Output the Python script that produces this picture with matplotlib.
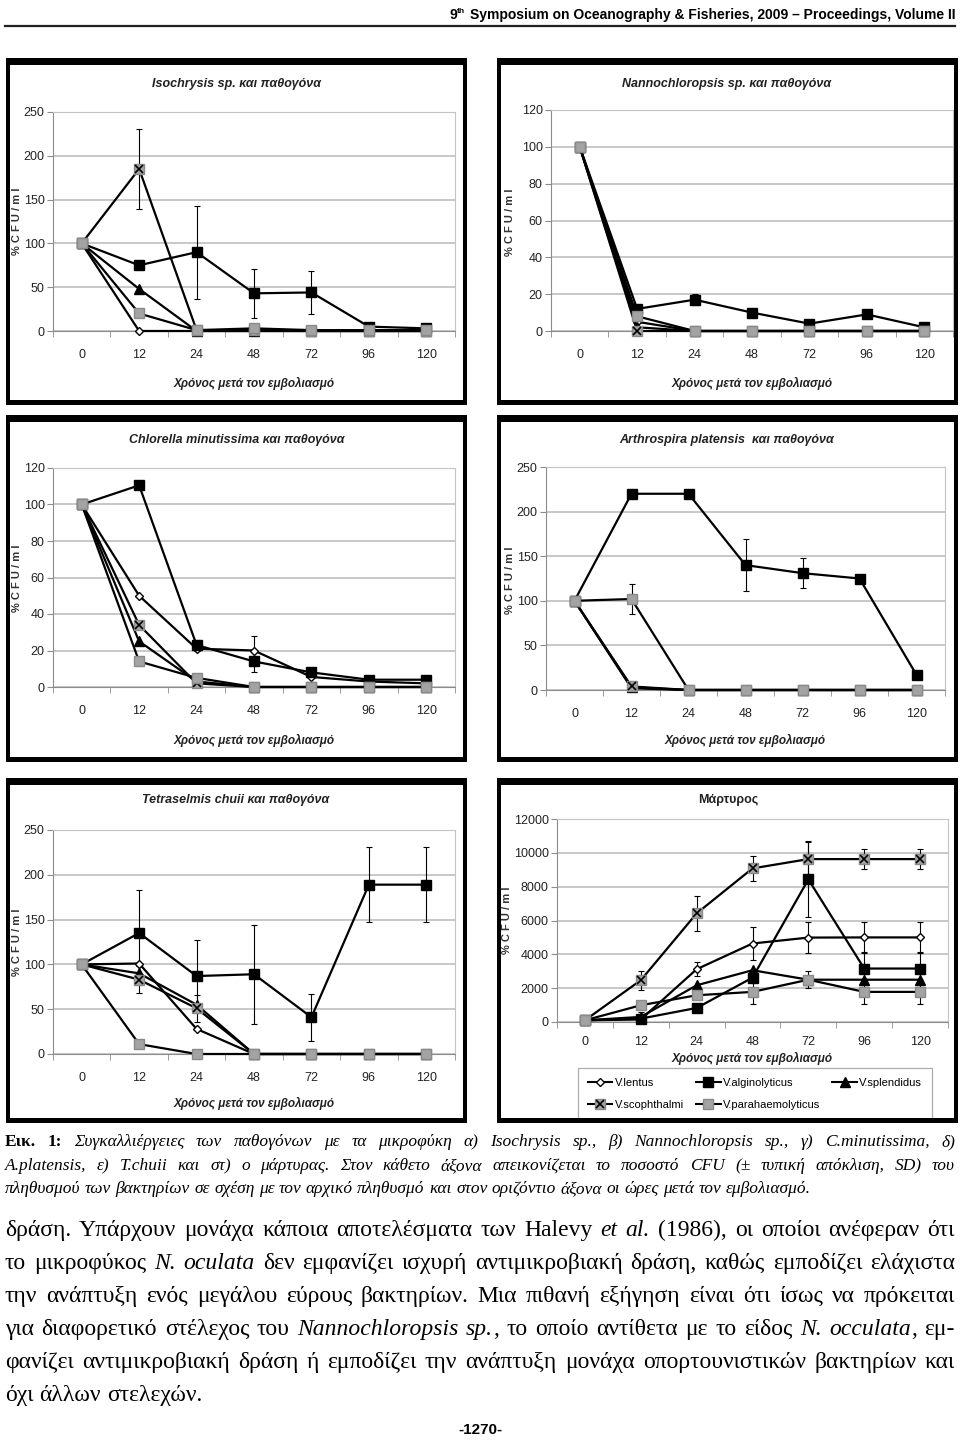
import numpy as np
import matplotlib
matplotlib.use("Agg")
import matplotlib.pyplot as plt
from matplotlib.patches import Rectangle
from matplotlib.lines import Line2D

W, H = 960, 1440
NARROW = ['Liberation Sans Narrow', 'Liberation Sans', 'DejaVu Sans']
SERIF = ['Liberation Serif', 'DejaVu Serif']

hours = ['0', '12', '24', '48', '72', '96', '120']
names = ['V.lentus', 'V.alginolyticus', 'V.splendidus', 'V.scophthalmi', 'V.parahaemolyticus']

# order of rows: lentus, alginolyticus, splendidus, scophthalmi, parahaemolyticus
iso_vals = [
    [100, 0, 0, 0, 0, 0, 0],
    [100, 75, 90, 43, 44, 5, 3],
    [100, 48, 0, 0, 0, 0, 0],
    [100, 185, 1, 1, 0, 0, 0],
    [100, 20, 1, 3, 1, 1, 1],
]
iso_err = [None, [0, 0, 53, 28, 25, 0, 0], None, [0, 46, 0, 0, 0, 0, 0], None]

nanno_vals = [
    [100, 5, 0, 0, 0, 0, 0],
    [100, 12, 17, 10, 4, 9, 2],
    [100, 2, 0, 0, 0, 0, 0],
    [100, 0, 0, 0, 0, 0, 0],
    [100, 8, 0, 0, 0, 0, 0],
]
nanno_err = [None, [0, 2, 3, 2, 0, 1, 0], None, None, None]

chlor_vals = [
    [100, 50, 21, 20, 5.5, 3, 2],
    [100, 110.5, 23, 14, 8, 4, 4],
    [100, 25, 3, 0, 0, 0, 0],
    [100, 34, 2, 0, 0, 0, 0],
    [100, 14, 5, 0, 0, 0, 0],
]
chlor_err = [[0, 0, 0, 8, 0, 0, 0], [0, 0, 3, 6, 0, 0, 0], None, None, None]

arthro_vals = [
    [100, 2, 0, 0, 0, 0, 0],
    [100, 220, 220, 140, 131, 125, 17],
    [100, 3, 0, 0, 0, 0, 0],
    [100, 4, 0, 0, 0, 0, 0],
    [100, 102, 0, 0, 0, 0, 0],
]
arthro_err = [None, [0, 0, 0, 29, 17, 0, 0], None, None, [0, 17, 0, 0, 0, 0, 0]]

tetra_vals = [
    [100, 101, 28, 0, 0, 0, 0],
    [100, 135, 87, 89, 41, 189, 189],
    [100, 90, 55, 0, 0, 0, 0],
    [100, 83, 51, 0, 0, 0, 0],
    [100, 11, 0, 0, 0, 0, 0],
]
tetra_err = [None, [0, 48, 40, 55, 26, 42, 42], None, [0, 15, 15, 0, 0, 0, 0], None]

ctrl_vals = [
    [100, 150, 3120, 4640, 4990, 5000, 5000],
    [100, 200, 830, 2620, 8430, 3160, 3160],
    [100, 300, 2170, 3060, 2500, 2500, 2500],
    [100, 2470, 6420, 9080, 9630, 9630, 9630],
    [100, 990, 1580, 1780, 2500, 1780, 1780],
]
ctrl_err = [[0, 0, 430, 1000, 900, 900, 900],
            [0, 400, 0, 0, 2200, 1000, 1000],
            None,
            [0, 560, 1050, 730, 1070, 570, 570],
            [0, 0, 0, 700, 500, 700, 700]]

STYLES = [
    dict(marker='D', ms=4.5, mfc='white', mec='black', mew=1.0),
    dict(marker='s', ms=6.5, mfc='black', mec='black'),
    dict(marker='^', ms=6.5, mfc='black', mec='black'),
    dict(marker='s', ms=7.5, mfc='#a3a3a3', mec='#8a8a8a'),
    dict(marker='s', ms=7.5, mfc='#a3a3a3', mec='#8a8a8a'),
]

fig = plt.figure(figsize=(W / 100, H / 100), dpi=100)
fig.patch.set_facecolor('white')
renderer = fig.canvas.get_renderer()


def frame(x0, y0, x1, y1):
    # black border round each chart picture, thicker at the top
    for a, b, c, d in [(x0, y0, x1, y0 + 7), (x0, y1 - 5, x1, y1),
                       (x0, y0, x0 + 4, y1), (x1 - 4, y0, x1, y1)]:
        fig.add_artist(Rectangle((a / W, 1 - d / H), (c - a) / W, (d - b) / H,
                                 transform=fig.transFigure, fc='black', ec='none', zorder=10))


def panel(box, ymax, ystep, vals, errs, title, title_xy, ylab_xy, xlab_y, pad, italic=True):
    l, t, r, b = box
    ax = fig.add_axes([l / W, 1 - b / H, (r - l) / W, (b - t) / H])
    x = np.arange(len(hours))
    for i, v in enumerate(vals):
        e = errs[i]
        if e is not None:
            idx = [k for k in range(len(e)) if e[k] > 0]
            ax.errorbar(x[idx], np.array(v, float)[idx], yerr=np.array(e, float)[idx], fmt='none',
                        ecolor='black', elinewidth=0.8, capsize=2.5, capthick=0.8, zorder=2)
        ax.plot(x, v, color='black', lw=1.6, clip_on=False, zorder=3 + i, **STYLES[i])
        if i == 3:
            ax.plot(x, v, ls='none', marker='x', ms=5.5, mec='black', mew=1.2,
                    clip_on=False, zorder=3 + i)
    ax.set_xlim(-0.5, 6.5)
    ax.set_ylim(0, ymax)
    ax.set_yticks(range(0, ymax + 1, ystep))
    ax.set_xticks(x)
    ax.set_xticklabels(hours)
    ax.set_xticks(np.arange(-0.5, 7, 1), minor=True)
    ax.yaxis.grid(True, color='#c4c4c4', lw=1.3)
    ax.set_axisbelow(True)
    ax.tick_params(axis='x', which='major', length=0, pad=pad)
    ax.tick_params(axis='x', which='minor', length=4, color='#8c8c8c')
    ax.tick_params(axis='y', length=4, color='#8c8c8c', pad=2)
    ax.tick_params(labelfontfamily=NARROW, labelsize=9, labelcolor='#222222')
    for s in ax.spines.values():
        s.set_color('#c4c4c4')
    ax.spines['bottom'].set_color('#8c8c8c')
    ax.spines['left'].set_color('#8c8c8c')
    fig.text(title_xy[0] / W, 1 - title_xy[1] / H, title, ha='center', va='center',
             family=NARROW, weight='bold', style='italic' if italic else 'normal',
             size=9, color='#222222')
    fig.text(ylab_xy[0] / W, 1 - ylab_xy[1] / H, '% C F U / m l', rotation=90,
             ha='center', va='center', family=NARROW, weight='bold', size=8, color='#333333')
    fig.text((l + r) / 2 / W, 1 - xlab_y / H, 'Χρόνος μετά τον εμβολιασμό', ha='center',
             va='center', family=NARROW, weight='bold', style='italic', size=8.5, color='#222222')
    return ax


for fx0, fx1 in [(6, 467), (497, 958)]:
    for fy0, fy1 in [(58, 405), (415, 762), (778, 1123)]:
        frame(fx0, fy0, fx1, fy1)

panel((53, 112, 455, 331), 250, 50, iso_vals, iso_err, 'Isochrysis sp. και παθογόνα',
      (236, 84), (17, 221), 383, 13)
panel((551, 110, 953, 331), 120, 20, nanno_vals, nanno_err, 'Nannochloropsis sp. και παθογόνα',
      (727, 84), (510, 222), 383, 13)
panel((53, 468, 455, 687), 120, 20, chlor_vals, chlor_err, 'Chlorella minutissima και παθογόνα',
      (237, 440), (17, 578), 740, 13)
panel((546, 467, 945, 690), 250, 50, arthro_vals, arthro_err, 'Arthrospira platensis  και παθογόνα',
      (727, 440), (510, 580), 740, 13)
panel((53, 830, 455, 1054), 250, 50, tetra_vals, tetra_err, 'Tetraselmis chuii και παθογόνα',
      (236, 800), (17, 942), 1103, 13)
ax6 = panel((557, 819, 948, 1022), 12000, 2000, ctrl_vals, ctrl_err, 'Μάρτυρος',
            (728, 800), (507, 920), 1058, 10, italic=False)

# legend of the control chart
handles = []
for i in range(5):
    h = Line2D([], [], color='black', lw=1.5, **STYLES[i])
    if i == 3:
        h = (h, Line2D([], [], ls='none', marker='x', ms=5.5, mec='black', mew=1.2))
    handles.append(h)
order = [0, 3, 1, 4, 2]
leg = fig.legend([handles[k] for k in order], [names[k] for k in order], loc='upper left',
                 bbox_to_anchor=(578 / W, 1 - 1069 / H, 354 / W, 0.001), mode='expand', ncol=3,
                 prop={'family': NARROW, 'size': 8}, frameon=True, fancybox=False,
                 edgecolor='#9a9a9a', borderaxespad=0, borderpad=0.9, labelspacing=1.1,
                 handlelength=2.2, handletextpad=0.2, columnspacing=1.0)
leg.get_frame().set_linewidth(0.9)
leg.set_zorder(5)

# page header
t_main = fig.text(955 / W, 1 - 19 / H, 'Symposium on Oceanography & Fisheries, 2009 – Proceedings, Volume II',
                  ha='right', va='baseline', family=NARROW, weight='bold', size=10)
x_left = t_main.get_window_extent(renderer).x0
t_th = fig.text((x_left - 4) / W, 1 - 13 / H, 'th', ha='right', va='baseline',
                family=NARROW, weight='bold', size=6)
x_left = t_th.get_window_extent(renderer).x0
fig.text(x_left / W, 1 - 19 / H, '9', ha='right', va='baseline', family=NARROW, weight='bold', size=10)
fig.add_artist(Line2D([5 / W, 955 / W], [1 - 26 / H, 1 - 26 / H], transform=fig.transFigure,
                      color='#222222', lw=1.6))

REG = dict(family=SERIF)
ITA = dict(family=SERIF, style='italic')
BLD = dict(family=SERIF, weight='bold')


def text_line(segments, y, size, x0=5, x1=955, justify=True):
    words = [[]]
    for txt, style in segments:
        parts = txt.split(' ')
        if parts[0]:
            words[-1].append((parts[0], style))
        for p in parts[1:]:
            words.append([])
            if p:
                words[-1].append((p, style))
    words = [w for w in words if w]
    rows, widths = [], []
    for w in words:
        row, tot = [], 0
        for s, style in w:
            t = fig.text(0, 1 - y / H, s, size=size, va='baseline', ha='left', **style)
            wd = t.get_window_extent(renderer).width
            row.append((t, wd))
            tot += wd
        rows.append(row)
        widths.append(tot)
    a = fig.text(0, 0, 'a a', size=size, **REG)
    b = fig.text(0, 0, 'aa', size=size, **REG)
    space = a.get_window_extent(renderer).width - b.get_window_extent(renderer).width
    a.remove()
    b.remove()
    gap = space
    if justify:
        gap = max((x1 - x0 - sum(widths)) / (len(words) - 1), 0.5 * space)
    x = x0
    for row, wd in zip(rows, widths):
        xx = x
        for t, w in row:
            t.set_x(xx / W)
            xx += w
        x += wd + gap


cap = 12.5
text_line([('Εικ. 1:', BLD), (' Συγκαλλιέργειες των παθογόνων με τα  μικροφύκη α) Isochrysis sp., β) '
           'Nannochloropsis sp., γ) C.minutissima, δ)', ITA)], 1146, cap)
text_line([('A.platensis, ε) T.chuii και στ) ο μάρτυρας. Στον κάθετο άξονα απεικονίζεται το ποσοστό '
            'CFU (± τυπική απόκλιση, SD) του', ITA)], 1170, cap)
text_line([('πληθυσμού των βακτηρίων σε σχέση με τον αρχικό πληθυσμό και στον οριζόντιο άξονα οι ώρες '
            'μετά τον εμβολιασμό.', ITA)], 1193, cap, justify=False)

body = 17
text_line([('δράση. Υπάρχουν μονάχα κάποια  αποτελέσματα των Halevy ', REG), ('et al.', ITA),
           (' (1986), οι οποίοι ανέφεραν ότι', REG)], 1236, body)
text_line([('το μικροφύκος ', REG), ('N. oculata', ITA),
           (' δεν εμφανίζει ισχυρή αντιμικροβιακή δράση, καθώς εμποδίζει ελάχιστα', REG)], 1269, body)
text_line([('την ανάπτυξη ενός μεγάλου εύρους βακτηρίων. Μια πιθανή εξήγηση είναι ότι ίσως να πρόκειται',
            REG)], 1302, body)
text_line([('για διαφορετικό στέλεχος του ', REG), ('Nannochloropsis sp.', ITA),
           (', το οποίο αντίθετα με το είδος ', REG), ('N. occulata', ITA), (', εμ-', REG)], 1335, body)
text_line([('φανίζει αντιμικροβιακή δράση ή εμποδίζει την ανάπτυξη μονάχα οπορτουνιστικών βακτηρίων και',
            REG)], 1368, body)
text_line([('όχι άλλων στελεχών.', REG)], 1401, body, justify=False)

fig.text(480 / W, 1 - 1434 / H, '-1270-', ha='center', va='baseline', family=NARROW,
         weight='bold', size=11)

fig.savefig('out.png', dpi=100, facecolor='white')
